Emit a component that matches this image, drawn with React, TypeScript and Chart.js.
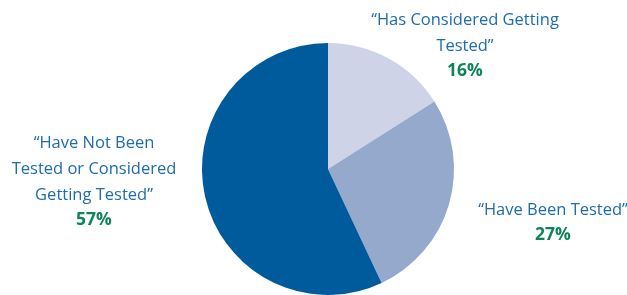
import React, { useEffect, useRef } from "react";
import { Chart, registerables } from "chart.js";

Chart.register(...registerables);

const categories = [
  "Has Considered Getting Tested",
  "Have Been Tested",
  "Have Not Been Tested or Considered Getting Tested",
];
const values = [16, 27, 57];
const labelLines = [
  ["\u201CHas Considered Getting", "Tested\u201D"],
  ["\u201CHave Been Tested\u201D"],
  ["\u201CHave Not Been", "Tested or Considered", "Getting Tested\u201D"],
];
const sliceColors = ["#ced3e8", "#95a9cd", "#005b9c"];

// label anchor offsets relative to pie center (dx, dy of first line)
const labelOffsets = [
  [137, -149],
  [225, 41],
  [-234, -26],
];

const TEXT_BLUE = "#1d6cae";
const PCT_GREEN = "#0d8458";
const FONT = '"Open Sans", sans-serif';

const labelPlugin = {
  id: "customLabels",
  afterDraw(chart: any) {
    const meta = chart.getDatasetMeta(0);
    const arc = meta.data[0];
    if (!arc) return;
    const cx = arc.x;
    const cy = arc.y;
    const ctx = chart.ctx;
    ctx.save();
    ctx.textAlign = "center";
    ctx.textBaseline = "middle";
    const lh = 26;
    labelLines.forEach((lines, i) => {
      const [dx, dy] = labelOffsets[i];
      const x = cx + dx;
      let y = cy + dy;
      ctx.fillStyle = TEXT_BLUE;
      ctx.font = `16.5px ${FONT}`;
      lines.forEach((ln) => {
        ctx.fillText(ln, x, y);
        y += lh;
      });
      ctx.fillStyle = PCT_GREEN;
      ctx.font = `bold 17.5px ${FONT}`;
      ctx.fillText(values[i] + "%", x, y - 1);
    });
    ctx.restore();
  },
};

export default function App() {
  const ref = useRef<HTMLCanvasElement>(null);
  useEffect(() => {
    if (!ref.current) return;
    const chart = new Chart(ref.current, {
      type: "pie",
      data: {
        labels: categories,
        datasets: [
          {
            data: values,
            backgroundColor: sliceColors,
            borderWidth: 0,
          },
        ],
      },
      options: {
        animation: false,
        responsive: false,
        maintainAspectRatio: false,
        layout: { padding: { top: 43, bottom: 0, left: 100, right: 71 } },
        plugins: {
          legend: { display: false },
          tooltip: { enabled: false },
        },
      },
      plugins: [labelPlugin],
    });
    return () => chart.destroy();
  }, []);
  return (
    <div style={{ position: "fixed", left: 0, top: 0, width: 627, height: 295, background: "#fff" }}>
      <canvas ref={ref} width={627} height={295} style={{ width: 627, height: 295 }} />
    </div>
  );
}
